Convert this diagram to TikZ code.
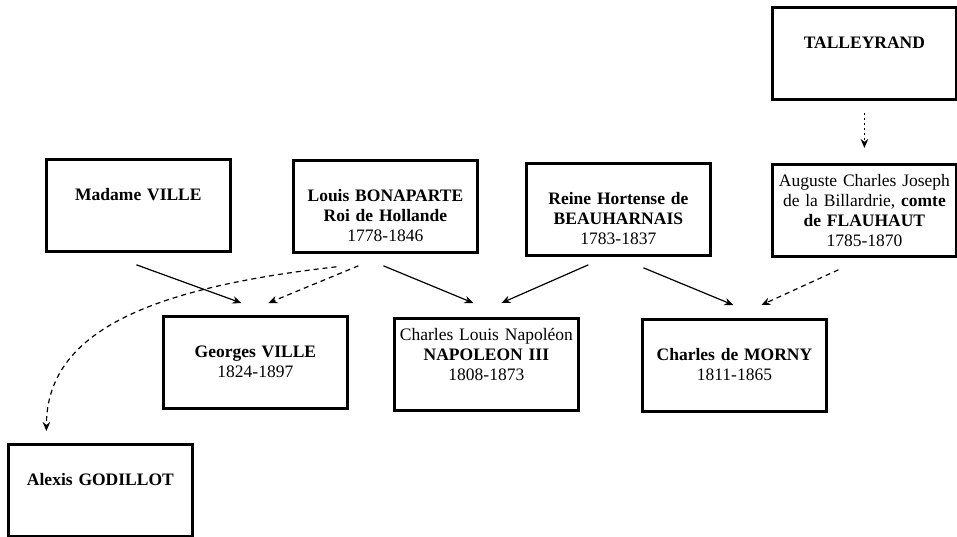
\documentclass[tikz,border=0pt]{standalone}
\usepackage{fontspec}
\setmainfont{Liberation Serif}
\usetikzlibrary{arrows.meta}
\usetikzlibrary{calc}
\tikzset{
    person/.style = {draw=black, line width=2.8pt, anchor=north west, align=center, text width=182pt, inner xsep=1pt, inner ysep=0pt, text height=41pt, text depth=51pt, font=\fontsize{17.5}{20}\selectfont},
    fullperson/.style = {person, text height=22pt, text depth=70pt},
    kin/.style = {->, line width=1.2pt},
    kinguess/.style = {kin, dash pattern=on 5pt off 4pt},
    kinfar/.style = {kin, dash pattern=on 2.5pt off 2.5pt}
}

\begin{document}
\begin{tikzpicture}[x=1pt, y=-1pt, >={Stealth[length=9pt, width=7.5pt]}]
            \useasboundingbox (0,0) rectangle (957,536);
            % parents
            \node [person] (talleyrand) at (771,6) {\textbf{TALLEYRAND}};
            \node [person] (mville) at (45,158) {\textbf{Madame VILLE}};
            \node [person] (louis) at (292,159) {\textbf{Louis BONAPARTE}\\ \textbf{Roi de Hollande}\\ 1778-1846};
            \node [person] (hortense) at (525,162) {\textbf{Reine Hortense de}\\ \textbf{BEAUHARNAIS}\\ 1783-1837};
            \node [fullperson] (flahaut) at (771,163) {Auguste Charles Joseph\\ de la Billardrie, \textbf{comte}\\ \textbf{de FLAUHAUT}\\ 1785-1870};
            % children
            \node [person] (georges) at (162,315) {\textbf{Georges VILLE}\\ 1824-1897};
            \node [fullperson] (napoleon) at (393,317) {Charles Louis Napoléon\\ \textbf{NAPOLEON III}\\ 1808-1873};
            \node [person] (morny) at (641,318) {\textbf{Charles de MORNY}\\ 1811-1865};
            \node [person] (godillot) at (7,443) {\textbf{Alexis GODILLOT}};
            % filiations
            \draw [kin] ($(mville.south)+(-2,12)$) -- ($(georges.north)+(-14,-12)$);
            \draw [kinguess] ($(louis.south)+(-27,12)$) -- ($(georges.north)+(13,-12)$);
            \draw [kinguess] ($(louis.south)+(-49,13)$) .. controls +(-185,21) and +(0,-100) .. ($(godillot.north)+(-54,-12)$);
            \draw [kin] ($(louis.south)+(-2,12)$) -- ($(napoleon.north)+(-13,-14)$);
            \draw [kin] ($(hortense.south)+(-30,8)$) -- ($(napoleon.north)+(15,-14)$);
            \draw [kin] ($(hortense.south)+(25,11)$) -- ($(morny.north)+(-1,-13)$);
            \draw [kinguess] ($(flahaut.south)+(-26,12)$) -- ($(morny.north)+(27,-13)$);
            \draw [kinfar] ($(talleyrand.south)+(0,12)$) -- ($(flahaut.north)+(0,-15)$);
\end{tikzpicture}
\end{document}
